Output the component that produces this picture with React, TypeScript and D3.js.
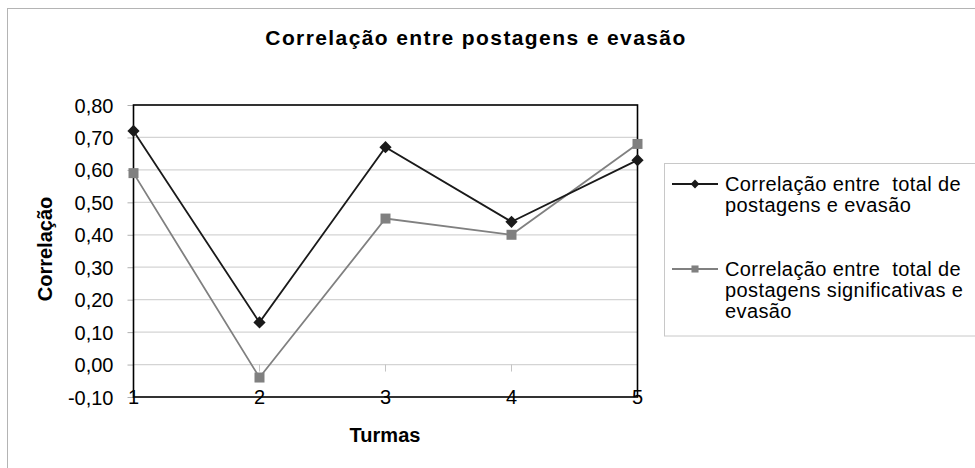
import React, { useEffect, useRef } from 'react';
import * as d3 from 'd3';

// data
const turmas = ['1', '2', '3', '4', '5'];
const totalPostagens = [0.72, 0.13, 0.67, 0.44, 0.63];
const postagensSignificativas = [0.59, -0.04, 0.45, 0.40, 0.68];
const yTicks = [-0.1, 0, 0.1, 0.2, 0.3, 0.4, 0.5, 0.6, 0.7, 0.8];
const legendTotal = ['Correlação entre  total de', 'postagens e evasão'];
const legendSignif = ['Correlação entre  total de', 'postagens significativas e', 'evasão'];

const W = 975;
const H = 468;
const FONT = '"Liberation Sans", Arial, sans-serif';
const plot = { left: 133.5, right: 637.5, top: 105, bottom: 397 };

const fmt = (v: number) => d3.format('.2f')(v).replace('.', ',').replace('−', '-');

const App = () => {
  const ref = useRef<SVGSVGElement>(null);

  useEffect(() => {
    const svg = d3.select(ref.current);
    svg.selectAll('*').remove();

    const x = d3.scalePoint<string>().domain(turmas).range([plot.left, plot.right]).padding(0);
    const y = d3.scaleLinear().domain([-0.1, 0.8]).range([plot.bottom, plot.top]);

    // outer chart frame (cut off at right and bottom)
    svg.append('rect')
      .attr('x', 7.5).attr('y', 8.5)
      .attr('width', W + 20).attr('height', H + 20)
      .attr('fill', 'white').attr('stroke', '#b4b4b4');

    // title
    svg.append('text')
      .attr('x', 476).attr('y', 45)
      .attr('text-anchor', 'middle')
      .style('font', `bold 21px ${FONT}`)
      .style('letter-spacing', '1.4px')
      .text('Correlação entre postagens e evasão');

    // gridlines
    svg.append('g').selectAll('line')
      .data(yTicks.filter(t => t > -0.1 && t < 0.8))
      .join('line')
      .attr('x1', plot.left).attr('x2', plot.right)
      .attr('y1', d => y(d)).attr('y2', d => y(d))
      .attr('stroke', '#d4d4d4').attr('stroke-width', 1.3);

    // small ticks on the zero line
    svg.append('g').selectAll('line')
      .data(turmas)
      .join('line')
      .attr('x1', d => x(d)!).attr('x2', d => x(d)!)
      .attr('y1', y(0)).attr('y2', y(0) + 7)
      .attr('stroke', '#c4c4c4');

    // y axis
    const yAxis = d3.axisLeft(y).tickValues(yTicks).tickSize(6).tickFormat(d => fmt(+d));
    const gy = svg.append('g').attr('transform', `translate(${plot.left},0)`).call(yAxis);
    gy.select('.domain').remove();
    gy.selectAll('.tick line').attr('stroke', '#b0b0b0');
    gy.selectAll('.tick text')
      .attr('x', -20).attr('dy', '0.35em')
      .style('font', `20px ${FONT}`).attr('fill', '#000');

    // plot frame
    svg.append('rect')
      .attr('x', plot.left).attr('y', plot.top)
      .attr('width', plot.right - plot.left).attr('height', plot.bottom - plot.top)
      .attr('fill', 'none').attr('stroke', '#000').attr('stroke-width', 1.6);

    // category labels sit on the bottom line
    svg.append('g').selectAll('text')
      .data(turmas)
      .join('text')
      .attr('x', d => x(d)!).attr('y', plot.bottom + 7)
      .attr('text-anchor', 'middle')
      .style('font', `20px ${FONT}`)
      .text(d => d);

    // axis titles
    svg.append('text')
      .attr('x', 385).attr('y', 442)
      .attr('text-anchor', 'middle')
      .style('font', `bold 20px ${FONT}`)
      .text('Turmas');
    svg.append('text')
      .attr('transform', 'translate(52,249) rotate(-90)')
      .attr('text-anchor', 'middle')
      .style('font', `bold 20px ${FONT}`)
      .text('Correlação');

    const line = d3.line<number>().x((_, i) => x(turmas[i])!).y(d => y(d));
    const diamond = d3.symbol().type(d3.symbolDiamond2).size(95);
    const square = d3.symbol().type(d3.symbolSquare).size(100);

    const series = [
      { values: postagensSignificativas, color: '#808080', marker: square },
      { values: totalPostagens, color: '#1a1a1a', marker: diamond },
    ];

    series.forEach(s => {
      svg.append('path')
        .datum(s.values)
        .attr('d', line)
        .attr('fill', 'none').attr('stroke', s.color).attr('stroke-width', 1.8);
      svg.append('g').selectAll('path')
        .data(s.values)
        .join('path')
        .attr('transform', (d, i) => `translate(${x(turmas[i])},${y(d)})`)
        .attr('d', s.marker())
        .attr('fill', s.color);
    });

    // legend
    svg.append('rect')
      .attr('x', 664.5).attr('y', 163.5)
      .attr('width', 330).attr('height', 172.5)
      .attr('fill', 'white').attr('stroke', '#c8c8c8');

    const entries = [
      { color: '#1a1a1a', type: d3.symbolDiamond2, labels: legendTotal, baseline: 191 },
      { color: '#808080', type: d3.symbolSquare, labels: legendSignif, baseline: 276 },
    ];
    entries.forEach(e => {
      const my = e.baseline - 7;
      svg.append('line')
        .attr('x1', 672).attr('x2', 718).attr('y1', my).attr('y2', my)
        .attr('stroke', e.color).attr('stroke-width', 1.8);
      svg.append('path')
        .attr('transform', `translate(695,${my})`)
        .attr('d', d3.symbol().type(e.type).size(50)())
        .attr('fill', e.color);
      svg.append('text')
        .attr('x', 725).attr('y', e.baseline)
        .style('font', `20px ${FONT}`)
        .style('letter-spacing', '0.4px')
        .style('white-space', 'pre')
        .selectAll('tspan')
        .data(e.labels)
        .join('tspan')
        .attr('x', 725)
        .attr('dy', (_, i) => (i === 0 ? 0 : 21))
        .text(d => d);
    });
  }, []);

  return (
    <svg
      ref={ref}
      width={W}
      height={H}
      style={{ position: 'absolute', left: 0, top: 0, background: 'white' }}
    />
  );
};

export default App;
